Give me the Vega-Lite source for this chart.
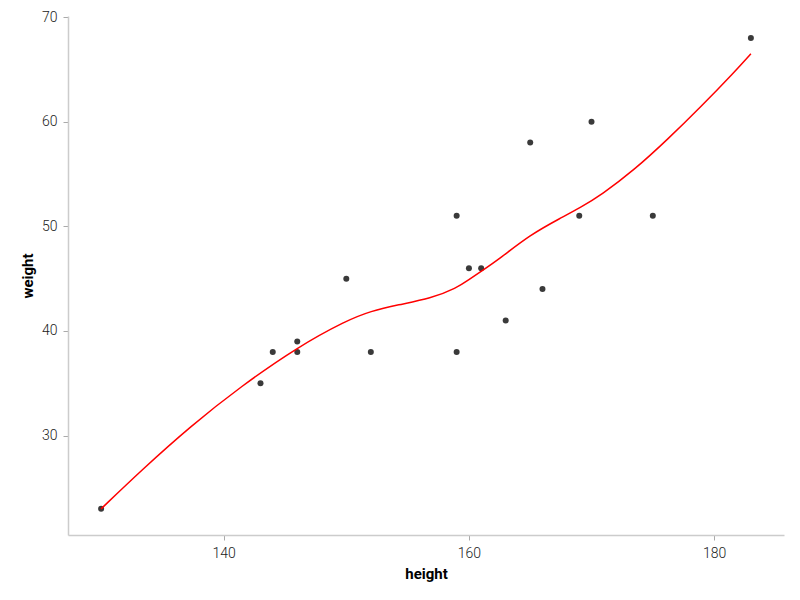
{
  "$schema": "https://vega.github.io/schema/vega-lite/v6.json",
  "width": 716,
  "height": 519,
  "padding": {"left": 20, "top": 10, "right": 5, "bottom": 5},
  "config": {
    "view": {"stroke": null},
    "font": "Roboto",
    "axis": {
      "grid": false,
      "domainColor": "#cccccc",
      "domainWidth": 1.5,
      "tickColor": "#aaaaaa",
      "tickSize": 5,
      "labelFont": "Roboto",
      "labelFontWeight": 300,
      "labelFontSize": 14,
      "labelColor": "#222222",
      "labelPadding": 6,
      "titleFont": "Roboto",
      "titleFontSize": 15,
      "titleFontWeight": "bold",
      "titleColor": "#000000",
      "titlePadding": 6
    }
  },
  "datasets": {
    "people": [
      {"height": 130, "weight": 23},
      {"height": 143, "weight": 35},
      {"height": 144, "weight": 38},
      {"height": 146, "weight": 39},
      {"height": 146, "weight": 38},
      {"height": 150, "weight": 45},
      {"height": 152, "weight": 38},
      {"height": 159, "weight": 51},
      {"height": 159, "weight": 38},
      {"height": 160, "weight": 46},
      {"height": 161, "weight": 46},
      {"height": 163, "weight": 41},
      {"height": 165, "weight": 58},
      {"height": 166, "weight": 44},
      {"height": 169, "weight": 51},
      {"height": 170, "weight": 60},
      {"height": 175, "weight": 51},
      {"height": 183, "weight": 68}
    ],
    "smooth": [
      {"height": 130, "weight": 23.0},
      {"height": 133.3, "weight": 26.7},
      {"height": 137.3, "weight": 30.9},
      {"height": 141.4, "weight": 34.7},
      {"height": 146, "weight": 38.45},
      {"height": 150, "weight": 41.0},
      {"height": 152, "weight": 41.9},
      {"height": 154.2, "weight": 42.5},
      {"height": 156.9, "weight": 43.1},
      {"height": 159, "weight": 44.1},
      {"height": 160, "weight": 44.9},
      {"height": 161, "weight": 45.7},
      {"height": 162.5, "weight": 46.9},
      {"height": 165, "weight": 49.2},
      {"height": 167.5, "weight": 50.8},
      {"height": 169.1, "weight": 51.8},
      {"height": 170.8, "weight": 53.0},
      {"height": 173.5, "weight": 55.4},
      {"height": 176.2, "weight": 58.3},
      {"height": 178.9, "weight": 61.4},
      {"height": 181.7, "weight": 64.8},
      {"height": 183, "weight": 66.5}
    ]
  },
  "layer": [
    {
      "data": {"name": "people"},
      "mark": {"type": "circle", "size": 36, "color": "#3a3a3a", "opacity": 1},
      "encoding": {
        "x": {"field": "height", "type": "quantitative", "scale": {"domain": [127.3, 185.7], "nice": false, "zero": false}, "axis": {"values": [140, 160, 180]}},
        "y": {"field": "weight", "type": "quantitative", "scale": {"domain": [20.5, 70.1], "nice": false, "zero": false}, "axis": {"values": [30, 40, 50, 60, 70]}}
      }
    },
    {
      "data": {"name": "smooth"},
      "mark": {"type": "line", "color": "red", "strokeWidth": 1.5, "interpolate": "basis"},
      "encoding": {
        "x": {"field": "height", "type": "quantitative"},
        "y": {"field": "weight", "type": "quantitative"}
      }
    }
  ]
}
